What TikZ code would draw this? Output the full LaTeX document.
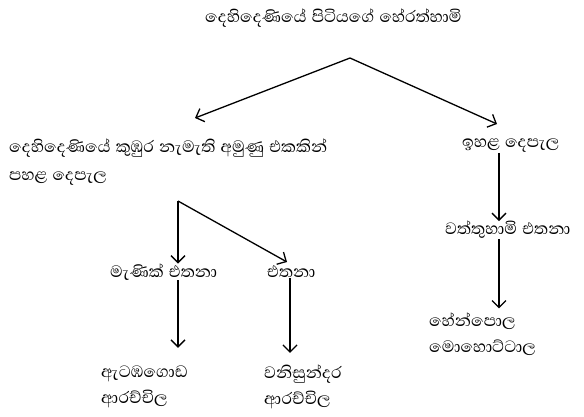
\documentclass[tikz,border=0pt]{standalone}
\usepackage{fontspec}
\newfontfamily\sinhala[Script=Sinhala,WordSpace=1.3]{Abhaya Libre}
\usetikzlibrary{arrows.meta,positioning}

\begin{document}
\begin{tikzpicture}[x=1pt, y=-1pt,
  every node/.style={font=\sinhala\fontsize{21}{26}\selectfont, inner sep=0pt, anchor=west},
  famtext/.style={align=left},
  arr/.style={line width=1.3pt, -{Straight Barb[length=7pt,width=14pt,line width=1.3pt]}},
]
\useasboundingbox (0,0) rectangle (584,416);

% top of the line
\node (herath) at (205,18) {දෙහිදෙණියේ පිටියගේ හේරත්හාමි};
\coordinate (split) at (350,58);

% left branch
\node[famtext, font=\sinhala\fontsize{21}{28}\selectfont] (pahala) at (9,162) {දෙහිදෙණියේ කුඹුර නැමැති අමුණු එකකින්\\පහළ දෙපැල};
\coordinate (fork) at (178,201);
\node (manik) at (110,272) {මැණික් එතනා};
\node (ethana) at (267,272) {එතනා};
\node[famtext] (atamba) at (101,387) {ඇටඹගොඩ\\ආරච්චිල};
\node[famtext] (wani) at (264,387) {වනිසුන්දර\\ආරච්චිල};

% right branch
\node (ihala) at (462,146) {ඉහළ දෙපැල};
\node (waththu) at (445,230) {වත්තුහාමි එතනා};
\node[famtext] (henpola) at (429,334) {හේන්පොල\\මොහොට්ටාල};

% connectors
\draw[arr] (split) -- (195,118);
\draw[arr] (split) -- (497,124);
\draw[arr] (ihala.south -| 499,0) -- (waththu.north -| 499,0);
\draw[arr, shorten >=4pt] (waththu.south -| 499,0) -- (henpola.north -| 499,0);
\draw[arr] (fork) -- (manik.north -| fork);
\draw[arr] (fork) -- (287,262);
\draw[arr, shorten >=18pt] (manik.south -| fork) -- (atamba.north -| fork);
\draw[arr, shorten >=12pt] (ethana.south -| 290,0) -- (wani.north -| 290,0);

\end{tikzpicture}
\end{document}
